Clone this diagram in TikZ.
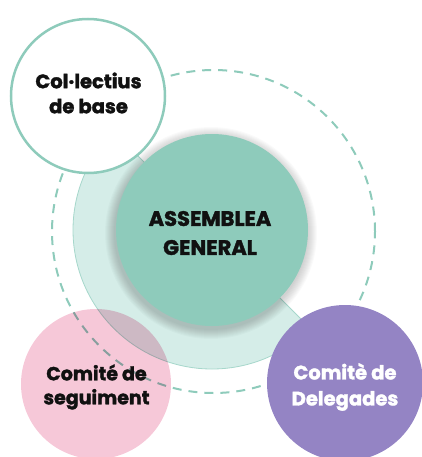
\documentclass[tikz,border=0pt]{standalone}
\usepackage{fontspec}
\setmainfont{Poppins}[BoldFeatures={FakeBold=1.8}]
\begin{document}
\begin{tikzpicture}[x=1pt,y=-1pt]
\definecolor{tealmain}{HTML}{8ECBBB}
\definecolor{tealpale}{HTML}{D5EDE8}
\definecolor{tealline}{HTML}{A6D7CB}
\definecolor{purplec}{HTML}{9484C4}
\definecolor{pinkc}{HTML}{F6C8D8}
\definecolor{inkc}{HTML}{111111}
\tikzset{
  bubble/.style={circle, inner sep=0pt, outer sep=0pt},
  lbl/.style={align=center, text=inkc, inner sep=0pt, font=\fontsize{19.5}{25}\selectfont\bfseries},
  biglbl/.style={align=center, text=inkc, inner sep=0pt, font=\fontsize{21}{29}\selectfont\bfseries},
}
\useasboundingbox (0,0) rectangle (421,457);
% pale half disk
\fill[tealpale, draw=tealline, line width=0.8pt] (212,230) ++(45:139) arc[start angle=45, end angle=225, radius=139] -- cycle;
% shadow
\foreach \r in {97,...,106} \fill[black, opacity=0.02] (211,233) circle[radius=\r];
% central circle
\node[bubble, fill=tealmain, minimum size=192pt] (ag) at (212,230) {};
\node[biglbl] (agt) at (210,233) {ASSEMBLEA\\GENERAL};
% dashed orbit
\node[bubble, draw=tealmain, line width=2pt, dash pattern=on 9pt off 7pt, minimum size=323pt] (orbit) at (213.5,231.5) {};
% top-left
\node[bubble, fill=white, draw=tealmain, line width=2.5pt, minimum size=154pt] (cb) at (88,96) {};
\node[lbl] (cbt) at (88.5,93) {Col·lectius\\de base};
% purple
\node[bubble, fill=purplec, minimum size=156pt] (cd) at (345,383) {};
\node[lbl, text=white, font=\fontsize{19.5}{26}\selectfont\bfseries] (cdt) at (345,387) {Comitè de\\Delegades};
% pink
\begin{scope}[blend mode=multiply]
\node[bubble, fill=pinkc, minimum size=150pt] (cs) at (96,384) {};
\end{scope}
\node[lbl, font=\fontsize{19}{24}\selectfont\bfseries] (cst) at (96.5,387) {Comité de\\seguiment};
\end{tikzpicture}
\end{document}
